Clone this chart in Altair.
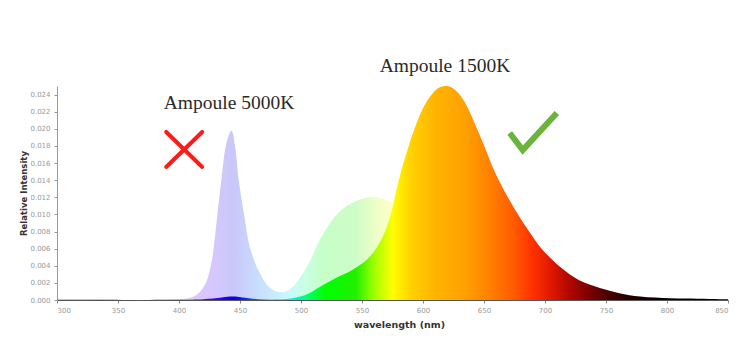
import altair as alt
import pandas as pd

# ---- data ----
wl_5000 = [300, 380, 400, 410, 416, 422, 427, 431, 435, 439, 443, 446, 449, 454, 458,
           466, 474, 484, 493, 505, 516, 526, 533, 540, 550, 562, 575, 585, 600, 620,
           640, 660, 690, 720, 760, 800, 850]
int_5000 = [0.0, 0.0, 0.0001, 0.0003, 0.0008, 0.0020, 0.0047, 0.0094, 0.0144, 0.0184,
            0.0198, 0.0179, 0.0140, 0.0094, 0.0062, 0.0032, 0.0015, 0.0009, 0.0015,
            0.0039, 0.0072, 0.0094, 0.0105, 0.0112, 0.0118, 0.0120, 0.0113, 0.0105,
            0.0090, 0.0070, 0.0050, 0.0034, 0.0018, 0.0009, 0.0003, 0.0001, 0.0]

wl_1500 = [300, 400, 420, 435, 444, 452, 465, 480, 493, 504, 515, 529, 542, 556, 567,
           574, 578, 582, 587, 593, 600, 606, 612, 618, 624, 633, 647, 660, 674, 688,
           696, 712, 728, 745, 761, 778, 803, 825, 843, 850]
int_1500 = [0.00003, 0.00003, 0.0001, 0.0003, 0.0004, 0.0003, 0.0001, 0.00005, 0.0002,
            0.0006, 0.0015, 0.0026, 0.0035, 0.0050, 0.0074, 0.0102, 0.0127, 0.0150,
            0.0174, 0.0200, 0.0224, 0.0238, 0.0247, 0.0250, 0.0248, 0.0234, 0.0191,
            0.0146, 0.0109, 0.0078, 0.0062, 0.0039, 0.0023, 0.0014, 0.0008, 0.0004,
            0.0002, 0.00015, 0.0001, 0.0001]

spectrum_nm = [300, 380, 420, 445, 470, 490, 505, 520, 545, 560, 575, 590, 610, 635,
               655, 675, 690, 705, 720, 735, 750, 770, 800, 850]
spectrum_colors = ["#2a0040", "#6a00a8", "#5a00ff", "#0a00e0", "#0080ff", "#00e8ff",
                   "#00ff70", "#00ff00", "#20f000", "#a0ff00", "#ffff00", "#ffd200",
                   "#ffb400", "#ffa000", "#ff8000", "#ff5a00", "#ff3000", "#e01800",
                   "#b00800", "#800000", "#500000", "#200000", "#000000", "#000000"]

x_ticks = [300, 350, 400, 450, 500, 550, 600, 650, 700, 750, 800, 850]
y_ticks = [0.000, 0.002, 0.004, 0.006, 0.008, 0.010, 0.012, 0.014, 0.016, 0.018,
           0.020, 0.022, 0.024]

label_text = ["Ampoule 5000K", "Ampoule 1500K"]
label_nm = [441, 618]
label_int = [0.0230, 0.0273]

cross_nm = [389.5, 419.0, 419.0, 389.5]
cross_int = [0.01963, 0.01554, 0.01963, 0.01554]
cross_seg = [1, 1, 2, 2]

check_nm = [671.1, 681.8, 709.7]
check_int = [0.01951, 0.01752, 0.02185]

# ---- tables ----
df5000 = pd.DataFrame({"nm": wl_5000, "val": int_5000})
df1500 = pd.DataFrame({"nm": wl_1500, "val": int_1500})
df_lab = pd.DataFrame({"nm": label_nm, "val": label_int, "t": label_text})
df_cross = pd.DataFrame({"nm": cross_nm, "val": cross_int, "seg": cross_seg,
                         "o": [0, 1, 0, 1]})
df_check = pd.DataFrame({"nm": check_nm, "val": check_int, "o": [0, 1, 2]})

lo, hi = spectrum_nm[0], spectrum_nm[-1]
stops = [alt.GradientStop(offset=(w - lo) / (hi - lo), color=c)
         for w, c in zip(spectrum_nm, spectrum_colors)]
grad = alt.Gradient(gradient="linear", stops=stops, x1=0, x2=1, y1=0, y2=0)

xscale = alt.Scale(domain=[300, 850], nice=False, zero=False)
yscale = alt.Scale(domain=[0, 0.025], nice=False)

xaxis = alt.Axis(values=x_ticks, title="wavelength (nm)", grid=False,
                 labelFont="DejaVu Sans", labelFontSize=7, labelColor="#999999",
                 labelPadding=3, tickSize=3, tickColor="#888888",
                 domainColor="#555555", titleFont="DejaVu Sans", titleFontSize=9.5,
                 titleFontWeight="bold", titleColor="#333333", titlePadding=6,
                 titleX=342)
yaxis = alt.Axis(values=y_ticks, format=".3f", title="Relative Intensity", grid=False,
                 labelFont="DejaVu Sans", labelFontSize=7, labelColor="#999999",
                 labelPadding=4, tickSize=3, tickColor="#999999",
                 domainColor="#999999", titleFont="DejaVu Sans", titleFontSize=8.5,
                 titleFontWeight="bold", titleColor="#333333", titlePadding=1)

X = alt.X("nm:Q", scale=xscale, axis=xaxis)
Y = alt.Y("val:Q", scale=yscale, axis=yaxis)

pastel = alt.Chart(df5000).mark_area(fill=grad, fillOpacity=0.22,
                                     interpolate="catmull-rom").encode(x=X, y=Y)
warm = alt.Chart(df1500).mark_area(fill=grad, interpolate="catmull-rom").encode(x=X, y=Y)

labels = alt.Chart(df_lab).mark_text(font="Liberation Serif", fontSize=19.5,
                                     color="#2a2a2a", align="center",
                                     baseline="middle").encode(x=X, y=Y, text="t:N")

cross = alt.Chart(df_cross).mark_line(color="#ff1a1a", strokeWidth=4,
                                      strokeCap="round").encode(
    x=X, y=Y, detail="seg:N", order="o:Q")

check = alt.Chart(df_check).mark_line(color="#6ab43c", strokeWidth=6,
                                      strokeJoin="miter", strokeCap="butt").encode(
    x=X, y=Y, order="o:Q")

chart = alt.layer(pastel, warm, labels, cross, check).properties(
    width=671, height=214,
    autosize=alt.AutoSizeParams(type="none"),
    padding={"left": 57, "top": 86, "right": 17, "bottom": 51},
    background="white",
).configure_view(stroke=None)

chart.save("out.html", embed_options={"renderer": "svg", "actions": False})
